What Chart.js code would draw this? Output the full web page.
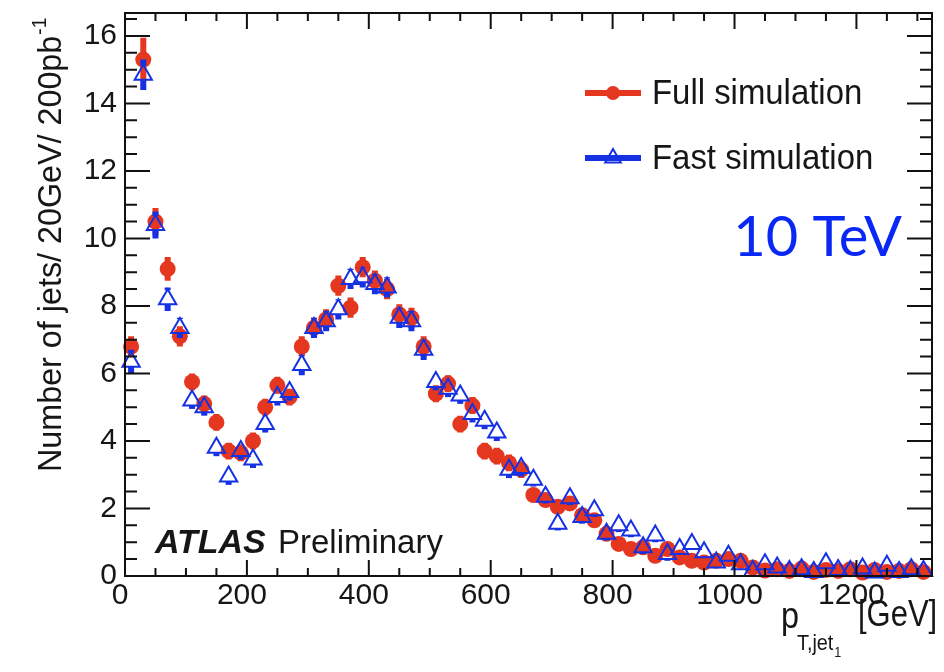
<!DOCTYPE html>
<html>
<head>
<meta charset="utf-8">
<script src="https://cdn.jsdelivr.net/npm/chart.js@4.4.1/dist/chart.umd.min.js"></script>
<style>
  body { margin: 0; background: #fff; }
  canvas { display: block; }
</style>
</head>
<body>
<canvas id="jetChart" width="944" height="672"></canvas>
<script>
// bin centres, 20 GeV bins
var binCenters = [10, 30, 50, 70, 90, 110, 130, 150, 170, 190, 210, 230, 250, 270, 290, 310, 330, 350, 370, 390,
  410, 430, 450, 470, 490, 510, 530, 550, 570, 590, 610, 630, 650, 670, 690, 710, 730, 750, 770, 790,
  810, 830, 850, 870, 890, 910, 930, 950, 970, 990, 1010, 1030, 1050, 1070, 1090, 1110, 1130, 1150, 1170, 1190,
  1210, 1230, 1250, 1270, 1290, 1310];

var fullSim = [6.8, 15.3, 10.5, 9.1, 7.1, 5.75, 5.1, 4.55, 3.7, 3.65, 4.0, 5.0, 5.65, 5.3, 6.8, 7.35, 7.6, 8.6, 7.95, 9.15,
  8.75, 8.5, 7.75, 7.65, 6.8, 5.4, 5.7, 4.5, 5.05, 3.7, 3.55, 3.35, 3.15, 2.4, 2.25, 2.05, 2.15, 1.8, 1.65, 1.25,
  0.95, 0.8, 0.85, 0.6, 0.8, 0.55, 0.45, 0.4, 0.45, 0.5, 0.45, 0.25, 0.16, 0.2, 0.15, 0.22, 0.12, 0.18, 0.15, 0.2,
  0.1, 0.18, 0.12, 0.15, 0.2, 0.12];
var fullErr = [0.3, 0.65, 0.4, 0.35, 0.3, 0.25, 0.25, 0.25, 0.25, 0.25, 0.25, 0.25, 0.25, 0.25, 0.3, 0.3, 0.3, 0.3, 0.3, 0.3,
  0.3, 0.3, 0.3, 0.3, 0.3, 0.25, 0.25, 0.25, 0.25, 0.25, 0.25, 0.25, 0.25, 0.2, 0.2, 0.2, 0.2, 0.2, 0.2, 0.2,
  0.2, 0.2, 0.2, 0.2, 0.2, 0.12, 0.12, 0.12, 0.12, 0.12, 0.12, 0.12, 0.12, 0.12, 0.12, 0.12, 0.12, 0.12, 0.12, 0.12,
  0.12, 0.12, 0.12, 0.12, 0.12, 0.12];

var fastSim = [6.35, 14.85, 10.4, 8.2, 7.35, 5.2, 5.0, 3.8, 2.95, 3.7, 3.45, 4.5, 5.3, 5.45, 6.25, 7.35, 7.55, 7.9, 8.8, 8.85,
  8.65, 8.55, 7.65, 7.55, 6.7, 5.75, 5.55, 5.35, 4.8, 4.6, 4.25, 3.15, 3.2, 2.85, 2.35, 1.55, 2.3, 1.75, 1.95, 1.25,
  1.5, 1.35, 0.85, 1.2, 0.65, 0.8, 0.95, 0.7, 0.4, 0.6, 0.35, 0.15, 0.35, 0.25, 0.15, 0.2, 0.12, 0.38, 0.18, 0.15,
  0.22, 0.1, 0.3, 0.12, 0.2, 0.15];
var fastErr = [0.35, 0.45, 0.4, 0.35, 0.3, 0.25, 0.25, 0.25, 0.25, 0.25, 0.25, 0.25, 0.25, 0.25, 0.3, 0.3, 0.3, 0.3, 0.3, 0.3,
  0.3, 0.3, 0.3, 0.3, 0.3, 0.25, 0.25, 0.25, 0.25, 0.25, 0.25, 0.25, 0.25, 0.2, 0.2, 0.2, 0.2, 0.2, 0.2, 0.2,
  0.2, 0.2, 0.2, 0.2, 0.2, 0.12, 0.12, 0.12, 0.12, 0.12, 0.12, 0.12, 0.12, 0.12, 0.12, 0.12, 0.12, 0.12, 0.12, 0.12,
  0.12, 0.12, 0.12, 0.12, 0.12, 0.12];

var RED = '#e5371f';
var BLUE = '#1531e4';
var FONT = '"Liberation Sans", Arial, sans-serif';
var INK = '#161616';

function points(ys) {
  return binCenters.map(function (x, i) { return { x: x, y: ys[i] }; });
}

// text squeezed sideways, the original looks like a narrow Helvetica
function narrowText(c, txt, x, y, sx) {
  c.save();
  c.translate(x, y);
  c.scale(sx, 1);
  c.fillText(txt, 0, 0);
  c.restore();
  return c.measureText(txt).width * sx;
}

// error bars drawn just before each dataset's markers
var errorBars = {
  id: 'errorBars',
  beforeDatasetDraw: function (chart, args) {
    var ds = chart.data.datasets[args.index];
    var xs = chart.scales.x, ys = chart.scales.y, c = chart.ctx;
    c.save();
    c.strokeStyle = ds.barColor;
    c.lineWidth = 6;
    ds.data.forEach(function (p, i) {
      var px = xs.getPixelForValue(p.x);
      var py = ys.getPixelForValue(p.y);
      var top = ys.getPixelForValue(p.y + ds.errors[i]);
      var bot = ys.getPixelForValue(Math.max(0, p.y - ds.errors[i]));
      c.beginPath();
      if (py - top > ds.gap) { c.moveTo(px, top); c.lineTo(px, py - ds.gap); }
      if (bot - py > ds.gap * 0.6) { c.moveTo(px, py + ds.gap * 0.6); c.lineTo(px, bot); }
      c.stroke();
    });
    c.restore();
  }
};

// ROOT style frame, inward ticks and the texts
var rootFrame = {
  id: 'rootFrame',
  afterDraw: function (chart) {
    var a = chart.chartArea, xs = chart.scales.x, ys = chart.scales.y, c = chart.ctx;
    c.save();
    c.strokeStyle = '#111';
    c.lineWidth = 2;
    c.strokeRect(a.left, a.top, a.right - a.left, a.bottom - a.top);
    c.beginPath();
    var v, p, len;
    for (v = 0; v <= xs.max; v += 50) {
      p = xs.getPixelForValue(v);
      len = v % 200 === 0 ? 16 : 8;
      c.moveTo(p, a.bottom); c.lineTo(p, a.bottom - len);
      c.moveTo(p, a.top); c.lineTo(p, a.top + len);
    }
    for (v = 0; v <= ys.max; v += 0.5) {
      p = ys.getPixelForValue(v);
      len = v % 2 === 0 ? 25 : 12;
      c.moveTo(a.left, p); c.lineTo(a.left + len, p);
      c.moveTo(a.right, p); c.lineTo(a.right - len, p);
    }
    c.stroke();

    // legend
    var rows = [[0, 93], [1, 158]];
    rows.forEach(function (r) {
      var ds = chart.data.datasets[r[0]];
      c.strokeStyle = ds.barColor;
      c.lineWidth = 6;
      c.beginPath(); c.moveTo(585, r[1]); c.lineTo(641, r[1]); c.stroke();
      c.fillStyle = ds.backgroundColor;
      c.strokeStyle = ds.borderColor;
      c.lineWidth = ds.borderWidth;
      Chart.helpers.drawPoint(c, { pointStyle: ds.pointStyle, radius: ds.pointRadius - 1, borderWidth: ds.borderWidth, rotation: 0 }, 613, r[1]);
      c.fillStyle = INK;
      c.font = '35px ' + FONT;
      c.textAlign = 'left';
      c.textBaseline = 'middle';
      narrowText(c, ds.label, 652, r[1] + 1, 0.94);
    });

    c.fillStyle = '#0a28f5';
    c.font = '56px Lato, "Open Sans", sans-serif';
    c.textBaseline = 'alphabetic';
    c.textAlign = 'right';
    c.fillText('10 TeV', 902, 256);

    c.textAlign = 'left';
    c.fillStyle = INK;
    c.font = 'italic bold 34px ' + FONT;
    c.fillText('ATLAS', 155, 553);
    c.font = '34px ' + FONT;
    narrowText(c, 'Preliminary', 278, 553, 0.97);

    // x title
    c.font = '36px ' + FONT;
    narrowText(c, 'p', 781, 628, 0.9);
    c.font = '22px ' + FONT;
    var sw = narrowText(c, 'T,jet', 797, 650, 0.9);
    c.font = '14px ' + FONT;
    narrowText(c, '1', 798 + sw, 657, 0.9);
    c.font = '36px ' + FONT;
    narrowText(c, '[GeV]', 858, 626, 0.86);

    // y title
    c.translate(61, 472);
    c.rotate(-Math.PI / 2);
    c.font = '34px ' + FONT;
    var main = 'Number of jets/ 20GeV/ 200pb';
    var w = narrowText(c, main, 0, 0, 0.95);
    c.font = '20px ' + FONT;
    narrowText(c, '-1', w + 1, -15, 0.95);
    c.restore();
  }
};

var ctx = document.getElementById('jetChart');
var tickFont = { family: FONT, size: 30 };

new Chart(ctx, {
  type: 'scatter',
  data: {
    datasets: [{
      label: 'Full simulation',
      data: points(fullSim),
      errors: fullErr,
      barColor: RED,
      gap: 0,
      pointStyle: 'circle',
      pointRadius: 8,
      backgroundColor: RED,
      borderColor: RED,
      borderWidth: 0,
      order: 2,
      clip: false
    }, {
      label: 'Fast simulation',
      data: points(fastSim),
      errors: fastErr,
      barColor: BLUE,
      gap: 9,
      pointStyle: 'triangle',
      pointRadius: 10,
      backgroundColor: 'rgba(0,0,0,0)',
      borderColor: BLUE,
      borderWidth: 2,
      order: 1,
      clip: false
    }]
  },
  options: {
    responsive: false,
    animation: false,
    events: [],
    layout: { padding: { left: 0, right: 9, top: 13, bottom: 0 } },
    plugins: { legend: { display: false }, tooltip: { enabled: false } },
    scales: {
      x: {
        type: 'linear',
        min: 0,
        max: 1324,
        afterFit: function (s) { s.height = 96; s.paddingLeft = 0; s.paddingRight = 0; },
        grid: { display: false, drawTicks: false },
        border: { display: false },
        ticks: {
          stepSize: 200, includeBounds: false, padding: 2, labelOffset: -5, maxRotation: 0, autoSkip: false,
          color: INK, font: tickFont,
          callback: function (v) { return String(v); }
        }
      },
      y: {
        min: 0,
        max: 16.68,
        afterFit: function (s) { s.width = 125; s.paddingTop = 0; s.paddingBottom = 0; },
        grid: { display: false, drawTicks: false },
        border: { display: false },
        ticks: { stepSize: 2, includeBounds: false, padding: 8, color: INK, font: tickFont }
      }
    }
  },
  plugins: [errorBars, rootFrame]
});
</script>
</body>
</html>
